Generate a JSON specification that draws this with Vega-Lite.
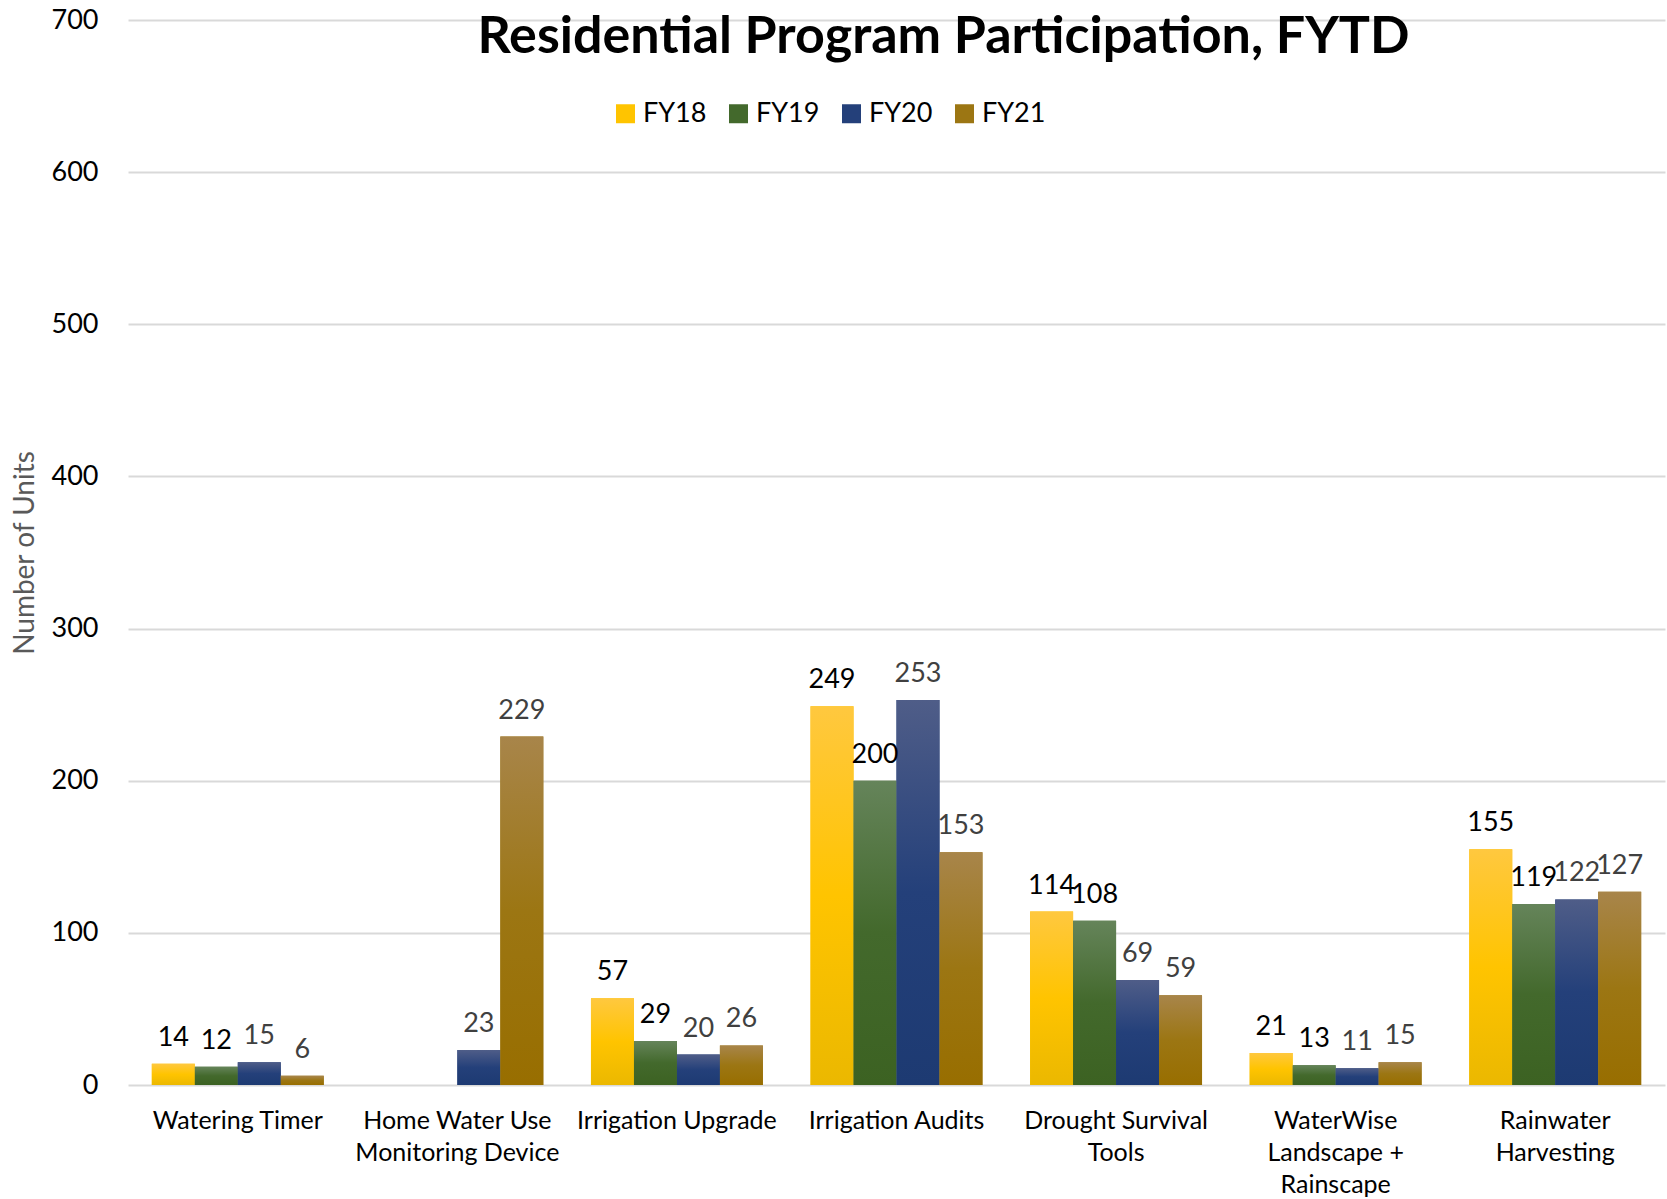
{
  "$schema": "https://vega.github.io/schema/vega-lite/v6.json",
  "autosize": {"type": "none"},
  "width": 1537,
  "height": 1065,
  "padding": {"left": 128, "top": 20, "right": 2, "bottom": 114},
  "background": "white",
  "title": {
    "text": "Residential Program Participation, FYTD",
    "font": "Lato",
    "fontSize": 52,
    "fontWeight": "bold",
    "color": "#000000",
    "anchor": "middle",
    "frame": "group",
    "offset": -58,
    "dx": 47
  },
  "data": {
    "values": [
      {"program": "Watering Timer", "fy": "FY18", "units": 14},
      {"program": "Watering Timer", "fy": "FY19", "units": 12},
      {"program": "Watering Timer", "fy": "FY20", "units": 15},
      {"program": "Watering Timer", "fy": "FY21", "units": 6},
      {"program": "Home Water Use Monitoring Device", "fy": "FY20", "units": 23},
      {"program": "Home Water Use Monitoring Device", "fy": "FY21", "units": 229},
      {"program": "Irrigation Upgrade", "fy": "FY18", "units": 57},
      {"program": "Irrigation Upgrade", "fy": "FY19", "units": 29},
      {"program": "Irrigation Upgrade", "fy": "FY20", "units": 20},
      {"program": "Irrigation Upgrade", "fy": "FY21", "units": 26},
      {"program": "Irrigation Audits", "fy": "FY18", "units": 249},
      {"program": "Irrigation Audits", "fy": "FY19", "units": 200},
      {"program": "Irrigation Audits", "fy": "FY20", "units": 253},
      {"program": "Irrigation Audits", "fy": "FY21", "units": 153},
      {"program": "Drought Survival Tools", "fy": "FY18", "units": 114},
      {"program": "Drought Survival Tools", "fy": "FY19", "units": 108},
      {"program": "Drought Survival Tools", "fy": "FY20", "units": 69},
      {"program": "Drought Survival Tools", "fy": "FY21", "units": 59},
      {"program": "WaterWise Landscape + Rainscape", "fy": "FY18", "units": 21},
      {"program": "WaterWise Landscape + Rainscape", "fy": "FY19", "units": 13},
      {"program": "WaterWise Landscape + Rainscape", "fy": "FY20", "units": 11},
      {"program": "WaterWise Landscape + Rainscape", "fy": "FY21", "units": 15},
      {"program": "Rainwater Harvesting", "fy": "FY18", "units": 155},
      {"program": "Rainwater Harvesting", "fy": "FY19", "units": 119},
      {"program": "Rainwater Harvesting", "fy": "FY20", "units": 122},
      {"program": "Rainwater Harvesting", "fy": "FY21", "units": 127}
    ]
  },
  "encoding": {
    "x": {
      "field": "program",
      "type": "nominal",
      "sort": null,
      "scale": {
        "domain": ["Watering Timer", "Home Water Use Monitoring Device", "Irrigation Upgrade", "Irrigation Audits", "Drought Survival Tools", "WaterWise Landscape + Rainscape", "Rainwater Harvesting"],
        "paddingInner": 0.217,
        "paddingOuter": 0.1085
      },
      "axis": {
        "title": null,
        "labelAngle": 0,
        "labelFont": "Lato",
        "labelFontSize": 25,
        "labelColor": "#000000",
        "labelPadding": 23,
        "labelLineHeight": 32,
        "labelLimit": 0,
        "labelOverlap": false,
        "labelBound": false,
        "ticks": false,
        "tickSize": 0,
        "domain": false,
        "grid": false,
        "labelExpr": "datum.value == 'Home Water Use Monitoring Device' ? ['Home Water Use', 'Monitoring Device'] : datum.value == 'Drought Survival Tools' ? ['Drought Survival', 'Tools'] : datum.value == 'WaterWise Landscape + Rainscape' ? ['WaterWise', 'Landscape +', 'Rainscape'] : datum.value == 'Rainwater Harvesting' ? ['Rainwater', 'Harvesting'] : datum.label"
      }
    },
    "xOffset": {
      "field": "fy",
      "type": "nominal",
      "scale": {"domain": ["FY18", "FY19", "FY20", "FY21"], "paddingInner": 0, "paddingOuter": 0}
    },
    "y": {
      "field": "units",
      "type": "quantitative",
      "scale": {"domain": [0, 700], "nice": false},
      "axis": {
        "title": "Number of Units",
        "titleFont": "Lato",
        "titleFontSize": 28,
        "titleFontWeight": "normal",
        "titleColor": "#595959",
        "titlePadding": 12,
        "values": [0, 100, 200, 300, 400, 500, 600, 700],
        "labelFont": "Lato",
        "labelFontSize": 27,
        "labelColor": "#000000",
        "labelPadding": 30,
        "ticks": false,
        "tickSize": 0,
        "domain": false,
        "grid": true,
        "gridColor": "#d9d9d9",
        "gridWidth": 2
      }
    }
  },
  "layer": [
    {
      "mark": {"type": "bar"},
      "encoding": {
        "color": {
          "field": "fy",
          "type": "nominal",
          "scale": {"domain": ["FY18", "FY19", "FY20", "FY21"], "range": ["#FFC400", "#43692C", "#24407A", "#9C7613"]},
          "legend": {
            "title": null,
            "orient": "none",
            "direction": "horizontal",
            "columns": 4,
            "legendX": 484,
            "legendY": 80,
            "padding": 0,
            "symbolType": "square",
            "symbolSize": 361,
            "symbolStrokeWidth": 0,
            "labelFont": "Lato",
            "labelFontSize": 27,
            "labelColor": "#000000",
            "labelOffset": 4,
            "columnPadding": 18
          }
        }
      }
    },
    {
      "mark": {"type": "bar"},
      "encoding": {
        "fill": {
          "condition": [
            {"test": "datum.fy === 'FY18'", "value": {"gradient": "linear", "x1": 0, "y1": 0, "x2": 0, "y2": 1, "stops": [{"offset": 0, "color": "#FFC83F"}, {"offset": 0.5, "color": "#FFC400"}, {"offset": 1, "color": "#EBB800"}]}},
            {"test": "datum.fy === 'FY19'", "value": {"gradient": "linear", "x1": 0, "y1": 0, "x2": 0, "y2": 1, "stops": [{"offset": 0, "color": "#65845A"}, {"offset": 0.5, "color": "#43692C"}, {"offset": 1, "color": "#3C6222"}]}},
            {"test": "datum.fy === 'FY20'", "value": {"gradient": "linear", "x1": 0, "y1": 0, "x2": 0, "y2": 1, "stops": [{"offset": 0, "color": "#4F5D88"}, {"offset": 0.5, "color": "#24407A"}, {"offset": 1, "color": "#1D3A72"}]}}
          ],
          "value": {"gradient": "linear", "x1": 0, "y1": 0, "x2": 0, "y2": 1, "stops": [{"offset": 0, "color": "#A8854A"}, {"offset": 0.5, "color": "#9C7613"}, {"offset": 1, "color": "#986E00"}]}
        }
      }
    },
    {
      "mark": {"type": "text", "baseline": "bottom", "align": "center", "dy": -12, "font": "Lato", "fontSize": 27},
      "encoding": {
        "text": {"field": "units", "type": "quantitative"},
        "color": {
          "condition": {"test": "datum.fy === 'FY18' || datum.fy === 'FY19'", "value": "#000000"},
          "value": "#404040"
        }
      }
    }
  ],
  "config": {
    "view": {"stroke": null},
    "font": "Lato"
  }
}
